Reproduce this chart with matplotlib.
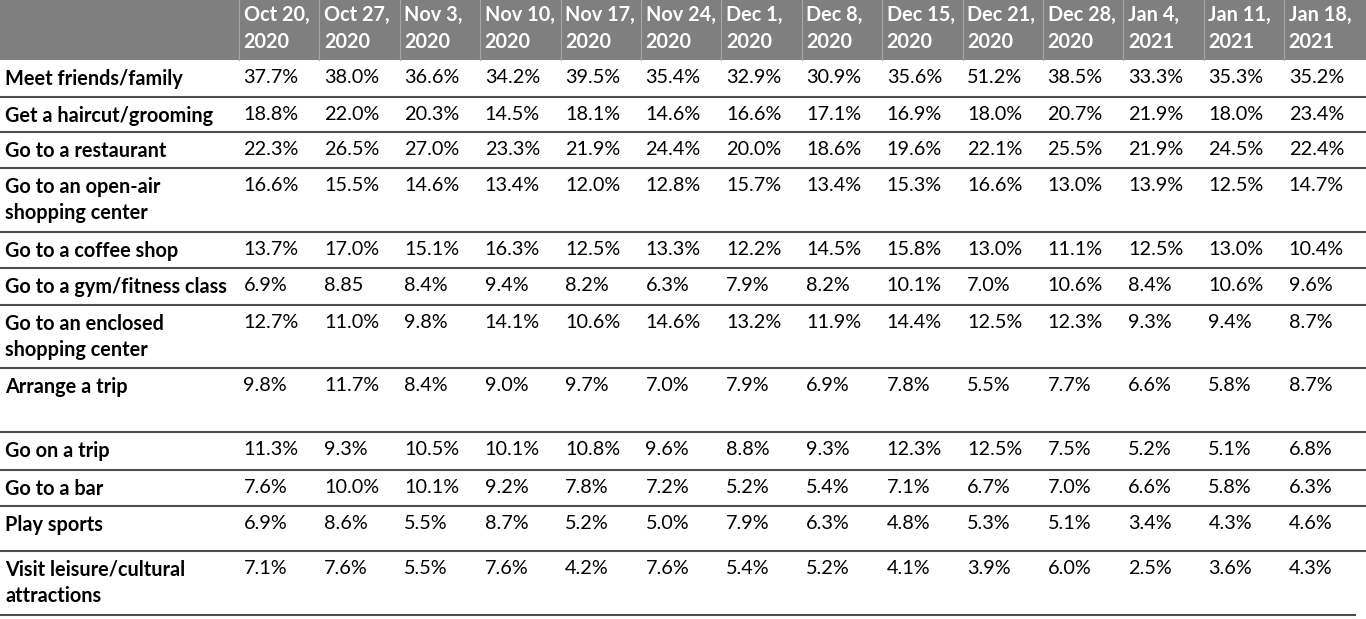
import matplotlib.pyplot as plt

plt.rcParams['font.family'] = ['Lato', 'DejaVu Sans']

# Daten der Tabelle
dates = ["Oct 20,\n2020", "Oct 27,\n2020", "Nov 3,\n2020", "Nov 10,\n2020", "Nov 17,\n2020",
         "Nov 24,\n2020", "Dec 1,\n2020", "Dec 8,\n2020", "Dec 15,\n2020", "Dec 21,\n2020",
         "Dec 28,\n2020", "Jan 4,\n2021", "Jan 11,\n2021", "Jan 18,\n2021"]

activities = ["Meet friends/family", "Get a haircut/grooming", "Go to a restaurant",
              "Go to an open-air\nshopping center", "Go to a coffee shop",
              "Go to a gym/fitness class", "Go to an enclosed\nshopping center",
              "Arrange a trip", "Go on a trip", "Go to a bar", "Play sports",
              "Visit leisure/cultural\nattractions"]

values = [
    ["37.7%", "38.0%", "36.6%", "34.2%", "39.5%", "35.4%", "32.9%", "30.9%", "35.6%", "51.2%", "38.5%", "33.3%", "35.3%", "35.2%"],
    ["18.8%", "22.0%", "20.3%", "14.5%", "18.1%", "14.6%", "16.6%", "17.1%", "16.9%", "18.0%", "20.7%", "21.9%", "18.0%", "23.4%"],
    ["22.3%", "26.5%", "27.0%", "23.3%", "21.9%", "24.4%", "20.0%", "18.6%", "19.6%", "22.1%", "25.5%", "21.9%", "24.5%", "22.4%"],
    ["16.6%", "15.5%", "14.6%", "13.4%", "12.0%", "12.8%", "15.7%", "13.4%", "15.3%", "16.6%", "13.0%", "13.9%", "12.5%", "14.7%"],
    ["13.7%", "17.0%", "15.1%", "16.3%", "12.5%", "13.3%", "12.2%", "14.5%", "15.8%", "13.0%", "11.1%", "12.5%", "13.0%", "10.4%"],
    ["6.9%", "8.85", "8.4%", "9.4%", "8.2%", "6.3%", "7.9%", "8.2%", "10.1%", "7.0%", "10.6%", "8.4%", "10.6%", "9.6%"],
    ["12.7%", "11.0%", "9.8%", "14.1%", "10.6%", "14.6%", "13.2%", "11.9%", "14.4%", "12.5%", "12.3%", "9.3%", "9.4%", "8.7%"],
    ["9.8%", "11.7%", "8.4%", "9.0%", "9.7%", "7.0%", "7.9%", "6.9%", "7.8%", "5.5%", "7.7%", "6.6%", "5.8%", "8.7%"],
    ["11.3%", "9.3%", "10.5%", "10.1%", "10.8%", "9.6%", "8.8%", "9.3%", "12.3%", "12.5%", "7.5%", "5.2%", "5.1%", "6.8%"],
    ["7.6%", "10.0%", "10.1%", "9.2%", "7.8%", "7.2%", "5.2%", "5.4%", "7.1%", "6.7%", "7.0%", "6.6%", "5.8%", "6.3%"],
    ["6.9%", "8.6%", "5.5%", "8.7%", "5.2%", "5.0%", "7.9%", "6.3%", "4.8%", "5.3%", "5.1%", "3.4%", "4.3%", "4.6%"],
    ["7.1%", "7.6%", "5.5%", "7.6%", "4.2%", "7.6%", "5.4%", "5.2%", "4.1%", "3.9%", "6.0%", "2.5%", "3.6%", "4.3%"],
]

# Layout (Pixelkoordinaten)
W, H = 1366, 619
header_h = 60
row_edges = [60, 97, 132, 168, 232, 268, 305, 368, 432, 470, 506, 551, 615]
col_x = [239 + i * 80.4 for i in range(len(dates))]

fig = plt.figure(figsize=(W / 100, H / 100), dpi=100)
ax = fig.add_axes([0, 0, 1, 1])
ax.set_xlim(0, W)
ax.set_ylim(H, 0)
ax.axis("off")

fs = 14.3

# Kopfzeile
ax.add_patch(plt.Rectangle((0, 0), W, header_h, color="#7f7f7f", lw=0))
for x in col_x:
    ax.plot([x, x], [0, header_h], color="#a6a6a6", lw=0.8)
for x, d in zip(col_x, dates):
    ax.text(x + 4.5, 5, d, color="white", fontsize=fs, fontweight="bold",
            va="top", ha="left", linespacing=1.42)

# Zeilen
for i, (act, vals) in enumerate(zip(activities, values)):
    top = row_edges[i]
    ax.text(5, top + 9, act, fontsize=fs, fontweight="bold", va="top", ha="left",
            linespacing=1.37)
    for x, v in zip(col_x, vals):
        ax.text(x + 4.5, top + 9, v, fontsize=fs, va="top", ha="left")
    bottom = row_edges[i + 1]
    x_end = 1355 if i == len(activities) - 1 else W
    ax.plot([0, x_end], [bottom, bottom], color="#4d4d4d", lw=1.5)

plt.savefig("out.png", dpi=100)
